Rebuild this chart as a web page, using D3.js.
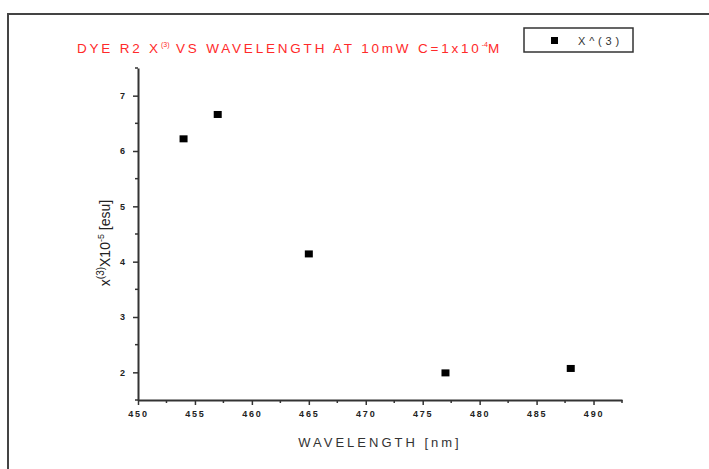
<!DOCTYPE html>
<html lang="en">
<head>
    <meta charset="UTF-8">
    <title>DYE R2 X(3) vs Wavelength</title>
    <script src="https://d3js.org/d3.v7.min.js"></script>
    <style>
        body {
            margin: 0;
            padding: 0;
            background: #fff;
        }
        svg text {
            font-family: "Liberation Sans", Arial, sans-serif;
        }
    </style>
</head>
<body>
    <script>
        // data
        const wavelengths = [454, 457, 465, 477, 488];
        const chi3 = [6.22, 6.66, 4.14, 1.99, 2.07];
        const xTicks = [450, 455, 460, 465, 470, 475, 480, 485, 490];
        const yTicks = [2, 3, 4, 5, 6, 7];

        const width = 709;
        const height = 469;
        const margin = { top: 68, right: 87, bottom: 69, left: 138 };

        const svg = d3.select("body")
            .append("svg")
            .attr("width", width)
            .attr("height", height);

        // outer frame (only top and left edges show)
        svg.append("path")
            .attr("d", `M8,${height} L8,14 L${width},14`)
            .attr("fill", "none")
            .attr("stroke", "#444")
            .attr("stroke-width", 2);

        const x = d3.scaleLinear()
            .domain([450, 492.5])
            .range([margin.left, width - margin.right]);

        const y = d3.scaleLinear()
            .domain([1.5, 7.5])
            .range([height - margin.bottom, margin.top]);

        const axisColor = "#333";

        // minor ticks
        const xMinor = d3.range(452.5, 492.6, 5);
        const yMinor = d3.range(1.5, 7.6, 1);

        const gx = svg.append("g")
            .attr("transform", `translate(0,${height - margin.bottom})`);
        gx.call(d3.axisBottom(x).tickValues(xTicks).tickSize(5).tickSizeOuter(0).tickPadding(6).tickFormat(d3.format("d")));
        gx.selectAll("line.minor")
            .data(xMinor)
            .enter().append("line")
            .attr("class", "minor")
            .attr("x1", d => x(d)).attr("x2", d => x(d))
            .attr("y1", 0).attr("y2", 3)
            .attr("stroke", axisColor).attr("stroke-width", 1.5);

        const gy = svg.append("g")
            .attr("transform", `translate(${margin.left},0)`);
        gy.call(d3.axisLeft(y).tickValues(yTicks).tickSize(5).tickSizeOuter(0).tickPadding(8).tickFormat(d3.format("d")));
        gy.selectAll("line.minor")
            .data(yMinor)
            .enter().append("line")
            .attr("class", "minor")
            .attr("y1", d => y(d)).attr("y2", d => y(d))
            .attr("x1", 0).attr("x2", -3)
            .attr("stroke", axisColor).attr("stroke-width", 1.5);

        [gx, gy].forEach(g => {
            g.select(".domain").attr("stroke", axisColor).attr("stroke-width", 2);
            g.selectAll(".tick line").attr("stroke", axisColor).attr("stroke-width", 1.5);
            g.selectAll(".tick text")
                .attr("fill", "#222")
                .style("font-size", "9px")
                .style("font-weight", "bold")
                .style("font-family", "'Liberation Sans', Arial, sans-serif");
        });
        gx.selectAll(".tick text").style("letter-spacing", "1.8px");

        // points
        const pts = wavelengths.map((w, i) => ({ w: w, v: chi3[i] }));
        svg.append("g")
            .selectAll("rect")
            .data(pts)
            .enter().append("rect")
            .attr("x", d => x(d.w) - 4)
            .attr("y", d => y(d.v) - 3.5)
            .attr("width", 8)
            .attr("height", 7)
            .attr("fill", "#000");

        // title
        const title = svg.append("text")
            .attr("x", 77)
            .attr("y", 53)
            .attr("fill", "#ff2a2a")
            .style("font-size", "13.5px")
            .style("letter-spacing", "2.8px");
        title.append("tspan").text("DYE R2 X");
        title.append("tspan").attr("dy", -6).style("font-size", "7px").style("letter-spacing", "0px").text("(3)");
        title.append("tspan").attr("dy", 6).text(" VS WAVELENGTH AT 10mW C=1x10");
        title.append("tspan").attr("dy", -6).style("font-size", "7px").style("letter-spacing", "0px").text("-4");
        title.append("tspan").attr("dy", 6).text("M");

        // legend
        svg.append("rect")
            .attr("x", 524).attr("y", 28)
            .attr("width", 109).attr("height", 24)
            .attr("fill", "#fff")
            .attr("stroke", "#333")
            .attr("stroke-width", 1.5);
        svg.append("rect")
            .attr("x", 551).attr("y", 37)
            .attr("width", 7).attr("height", 7)
            .attr("fill", "#000");
        svg.append("text")
            .attr("x", 578).attr("y", 45)
            .attr("fill", "#333")
            .style("font-size", "11px")
            .style("letter-spacing", "3.8px")
            .text("X^(3)");

        // axis titles
        svg.append("text")
            .attr("x", 380)
            .attr("y", 447)
            .attr("text-anchor", "middle")
            .attr("fill", "#333")
            .style("font-size", "13px")
            .style("letter-spacing", "3px")
            .text("WAVELENGTH [nm]");

        const yt = svg.append("text")
            .attr("transform", "translate(110,243) rotate(-90)")
            .attr("text-anchor", "middle")
            .attr("fill", "#222")
            .style("font-size", "14px");
        yt.append("tspan").text("x");
        yt.append("tspan").attr("dy", -6).style("font-size", "10px").text("(3)");
        yt.append("tspan").attr("dy", 6).text("X10");
        yt.append("tspan").attr("dy", -6).style("font-size", "9px").text("-5");
        yt.append("tspan").attr("dy", 6).text(" [esu]");
    </script>
</body>
</html>
